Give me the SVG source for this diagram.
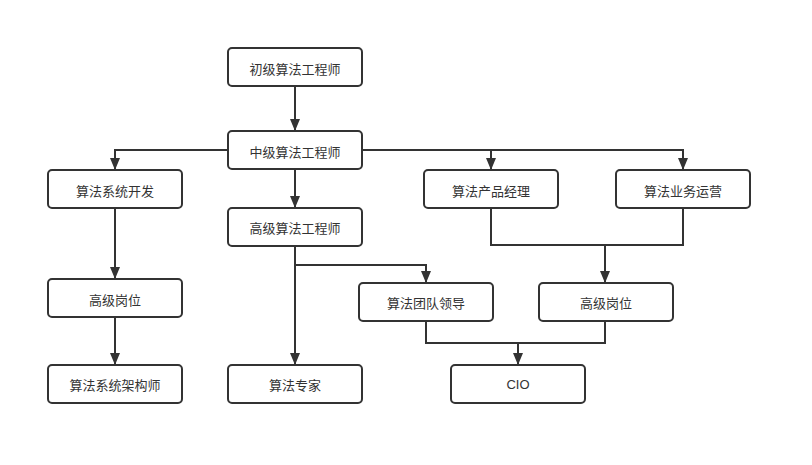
<svg xmlns="http://www.w3.org/2000/svg" width="812" height="465" viewBox="0 0 812 465">
<style>
.n rect{fill:#fff;stroke:#333;stroke-width:2}
.n text{font-family:"Noto Sans CJK SC","Liberation Sans",sans-serif;font-size:13px;fill:#333;text-anchor:middle;dominant-baseline:central}
.c path{fill:none;stroke:#333;stroke-width:2}
</style>
<defs>
<marker id="a" markerWidth="12" markerHeight="12" refX="12" refY="6" orient="auto" markerUnits="userSpaceOnUse" viewBox="0 0 12 12">
<path d="M0,1 L12,6 L0,11 Z" fill="#333"/>
</marker>
</defs>
<rect width="812" height="465" fill="#fff"/>
<g class="c">
<path d="M295,86 V131" marker-end="url(#a)"/>
<path d="M228,150 H115 V170" marker-end="url(#a)"/>
<path d="M362,150 H491 V170" marker-end="url(#a)"/>
<path d="M491,150 H683 V170" marker-end="url(#a)"/>
<path d="M295,169 V208" marker-end="url(#a)"/>
<path d="M115,208 V279" marker-end="url(#a)"/>
<path d="M115,317 V365" marker-end="url(#a)"/>
<path d="M295,246 V365" marker-end="url(#a)"/>
<path d="M295,265 H426 V283" marker-end="url(#a)"/>
<path d="M491,208 V245 H683 V208"/>
<path d="M605,245 V283" marker-end="url(#a)"/>
<path d="M426,321 V343 H605 V321"/>
<path d="M518,343 V365" marker-end="url(#a)"/>
</g>
<g id="n1" class="n"><rect x="228" y="48" width="134" height="38" rx="4"/><text x="295" y="68">初级算法工程师</text></g>
<g id="n2" class="n"><rect x="228" y="131" width="134" height="38" rx="4"/><text x="295" y="151">中级算法工程师</text></g>
<g id="n3" class="n"><rect x="48" y="170" width="134" height="38" rx="4"/><text x="115" y="190">算法系统开发</text></g>
<g id="n4" class="n"><rect x="228" y="208" width="134" height="38" rx="4"/><text x="295" y="227">高级算法工程师</text></g>
<g id="n5" class="n"><rect x="424" y="170" width="134" height="38" rx="4"/><text x="491" y="190">算法产品经理</text></g>
<g id="n6" class="n"><rect x="616" y="170" width="134" height="38" rx="4"/><text x="683" y="190">算法业务运营</text></g>
<g id="n7" class="n"><rect x="48" y="279" width="134" height="38" rx="4"/><text x="115" y="299">高级岗位</text></g>
<g id="n8" class="n"><rect x="359" y="283" width="134" height="38" rx="4"/><text x="426" y="302">算法团队领导</text></g>
<g id="n9" class="n"><rect x="539" y="283" width="134" height="38" rx="4"/><text x="606" y="302">高级岗位</text></g>
<g id="n10" class="n"><rect x="48" y="365" width="134" height="38" rx="4"/><text x="115" y="384">算法系统架构师</text></g>
<g id="n11" class="n"><rect x="228" y="365" width="134" height="38" rx="4"/><text x="295" y="384">算法专家</text></g>
<g id="n12" class="n"><rect x="451" y="365" width="134" height="38" rx="4"/><text x="518" y="384" style="font-family:'Liberation Sans',sans-serif">CIO</text></g>
</svg>
